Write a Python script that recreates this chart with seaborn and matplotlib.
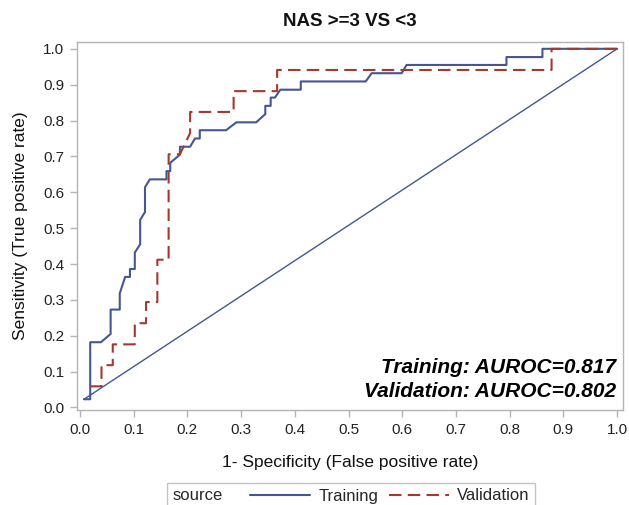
import numpy as np
import pandas as pd
import matplotlib
matplotlib.use("Agg")
import matplotlib.pyplot as plt
import seaborn as sns
from matplotlib.lines import Line2D
from matplotlib.offsetbox import HPacker

# ---- data ----
train_fpr = [0.0074, 0.019, 0.019, 0.039, 0.057, 0.057, 0.074, 0.074, 0.084, 0.093, 0.093,
             0.102, 0.102, 0.112, 0.112, 0.121, 0.121, 0.130, 0.161, 0.161, 0.168, 0.168,
             0.186, 0.186, 0.205, 0.214, 0.223, 0.223, 0.272, 0.291, 0.328, 0.345, 0.345,
             0.355, 0.355, 0.363, 0.373, 0.411, 0.411, 0.532, 0.543, 0.599, 0.608, 0.794,
             0.794, 0.861, 0.861, 1.0]
train_tpr = [0.023, 0.023, 0.182, 0.182, 0.205, 0.273, 0.273, 0.318, 0.364, 0.364, 0.386,
             0.386, 0.432, 0.455, 0.523, 0.545, 0.614, 0.636, 0.636, 0.659, 0.659, 0.682,
             0.705, 0.727, 0.727, 0.750, 0.750, 0.773, 0.773, 0.795, 0.795, 0.818, 0.841,
             0.841, 0.864, 0.864, 0.886, 0.886, 0.909, 0.909, 0.932, 0.932, 0.955, 0.955,
             0.977, 0.977, 1.0, 1.0]
valid_fpr = [0.019, 0.040, 0.040, 0.061, 0.061, 0.102, 0.102, 0.123, 0.123, 0.144, 0.144,
             0.165, 0.165, 0.186, 0.205, 0.205, 0.286, 0.286, 0.367, 0.367, 0.878, 0.878, 1.0]
valid_tpr = [0.059, 0.059, 0.118, 0.118, 0.176, 0.176, 0.235, 0.235, 0.294, 0.294, 0.412,
             0.412, 0.706, 0.706, 0.765, 0.824, 0.824, 0.882, 0.882, 0.941, 0.941, 1.0, 1.0]
ref_x = [0.0074, 1.0]
ref_y = [0.023, 1.0]

series_names = ["Training", "Validation"]
title_text = "NAS >=3 VS <3"
xlabel_text = "1- Specificity (False positive rate)"
ylabel_text = "Sensitivity (True positive rate)"
annot_lines = ["Training: AUROC=0.817", "Validation: AUROC=0.802"]
ticks = [0.0, 0.1, 0.2, 0.3, 0.4, 0.5, 0.6, 0.7, 0.8, 0.9, 1.0]

BLUE = "#445694"
RED = "#A23A2E"
GRAY = "#B4B4B4"

sns.set_style("white")
plt.rcParams["font.family"] = ["Liberation Sans", "DejaVu Sans"]

df = pd.concat([
    pd.DataFrame({"fpr": train_fpr, "tpr": train_tpr, "source": series_names[0],
                  "order": np.arange(len(train_fpr))}),
    pd.DataFrame({"fpr": valid_fpr, "tpr": valid_tpr, "source": series_names[1],
                  "order": np.arange(len(valid_fpr))}),
], ignore_index=True)
ref = pd.DataFrame({"x": ref_x, "y": ref_y})

fig = plt.figure(figsize=(6.29, 5.05), dpi=100)
ax = fig.add_axes([77 / 629, 1 - 410 / 505, (623 - 77) / 629, (410 - 42) / 505])

sns.lineplot(data=ref, x="x", y="y", ax=ax, color=BLUE, lw=1.0, sort=False,
             estimator=None, legend=False)
sns.lineplot(data=df, x="fpr", y="tpr", hue="source", style="source", ax=ax,
             palette={series_names[0]: BLUE, series_names[1]: RED},
             dashes={series_names[0]: "", series_names[1]: (6, 3)},
             sort=False, estimator=None, units="source", lw=1.5, legend=False)

ax.set_xlim(-0.0056, 1.011)
ax.set_ylim(-0.007, 1.019)
ax.set_xticks(ticks)
ax.set_yticks(ticks)
ax.set_xticklabels([f"{t:.1f}" for t in ticks])
ax.set_yticklabels([f"{t:.1f}" for t in ticks])
for s in ax.spines.values():
    s.set_color(GRAY)
    s.set_linewidth(1.0)
ax.tick_params(axis="both", direction="out", length=5, width=1.0, color=GRAY,
               labelsize=11, labelcolor="#222222", pad=4)
ax.tick_params(axis="x", bottom=True)
ax.tick_params(axis="y", left=True)

ax.set_xlabel(xlabel_text, fontsize=12.5, color="#111111", labelpad=13)
ax.set_ylabel(ylabel_text, fontsize=12.5, color="#111111", labelpad=11)
fig.text(350 / 629, 1 - 21 / 505, title_text, ha="center", va="center",
         fontsize=13.5, fontweight="bold", color="#111111")

ax.text(0.987, 0.100, annot_lines[0], transform=ax.transAxes, ha="right", va="baseline",
        fontsize=15, fontweight="bold", fontstyle="italic", color="black")
ax.text(0.987, 0.034, annot_lines[1], transform=ax.transAxes, ha="right", va="baseline",
        fontsize=15, fontweight="bold", fontstyle="italic", color="black")

handles = [Line2D([], [], color=BLUE, lw=1.5),
           Line2D([], [], color=RED, lw=1.5, dashes=(6, 3))]
leg = fig.legend(handles, series_names, title="source", loc="center",
                 bbox_to_anchor=(351 / 629, 1 - 496 / 505), ncol=2, fontsize=12,
                 title_fontsize=12, frameon=True, fancybox=False, handlelength=3.6,
                 handletextpad=0.5, columnspacing=0.6, borderpad=0.35)
leg.get_frame().set_edgecolor(GRAY)
leg.get_frame().set_linewidth(1.0)
try:
    old = leg._legend_box
    kids = old.get_children()
    new = HPacker(pad=old.pad, sep=20, align="center", children=kids)
    new.set_figure(fig)
    new.axes = None
    leg._legend_box = new
    new.set_offset(leg._findoffset)
except Exception:
    pass

fig.savefig("out.png", dpi=100)
